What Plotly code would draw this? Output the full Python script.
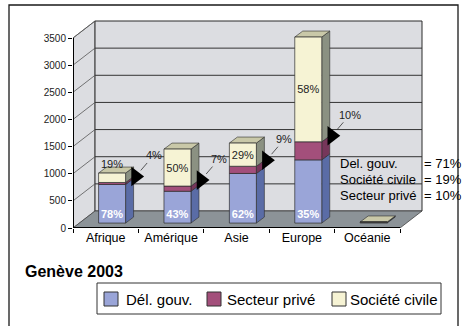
import plotly.graph_objects as go

# ---- data -------------------------------------------------------------
regions = ["Afrique", "Amérique", "Asie", "Europe", "Océanie"]
participants = [912, 1363, 1474, 3327, 20]      # delegates per region
pct_gov = [78, 43, 62, 35, 71]                  # Dél. gouv. share (%)
pct_priv = [4, 7, 9, 10, 10]                    # Secteur privé share (%)
pct_civil = [19, 50, 29, 58, 19]                # Société civile share (%)
series_names = ["Dél. gouv.", "Secteur privé", "Société civile"]
detail_region = "Océanie"                       # shares written out as text
detail_names = ["Del. gouv.", "Société civile", "Secteur privé"]
y_ticks = [0, 500, 1000, 1500, 2000, 2500, 3000, 3500]
title_text = "Genève 2003"

# ---- geometry / style -------------------------------------------------
FIG_W, FIG_H = 463, 326
PLOT_L, PLOT_R, PLOT_T, PLOT_B = 73, 424, 19, 228
PX_CAT = 65.4                 # px per category slot
PX_VAL = 190 / 3500           # px per participant
WALL_DX, WALL_DY = 22, 17     # depth of the chart box (px)
BAR_FRONT = 0.29              # bars stand this far into the box
BAR_W_PX = 27
BAR_DX, BAR_DY = 8, 6         # depth of each column (px)
FONT = "Liberation Sans, Arial, sans-serif"

WALL_FILL = "#dcdde1"
FLOOR_FILL = "#8c9398"
EDGE = "#2b2b2b"
FRONT = ["#9aa5d8", "#a34f7b", "#f6f3d4"]
SIDE = ["#5a6ca6", "#76365a", "#8b9182"]
TOP_FILL = "#c9c8a8"


def ux(px):
    return px / PX_CAT


def uy(px):
    return px / PX_VAL


def paper_x(px):
    return (px - PLOT_L) / (PLOT_R - PLOT_L)


def paper_y(py):
    return (PLOT_B - py) / (PLOT_B - PLOT_T)


def poly(pts):
    return "M" + "L".join(f"{x},{y}" for x, y in pts) + "Z"


n = len(regions)
WX, WY = ux(WALL_DX), uy(WALL_DY)
FX, FY = BAR_FRONT * WX, BAR_FRONT * WY
BW = ux(BAR_W_PX)
BX, BY = ux(BAR_DX), uy(BAR_DY)
y_top = max(y_ticks)

centers = [i + 0.5 for i in range(n)]
bar_x = [c + FX for c in centers]

gov = [t * p / 100 for t, p in zip(participants, pct_gov)]
priv = [t * p / 100 for t, p in zip(participants, pct_priv)]
civil = [t * p / 100 for t, p in zip(participants, pct_civil)]
segments = [gov, priv, civil]

bases = []
run = [FY] * n
for seg in segments:
    bases.append(list(run))
    run = [a + b for a, b in zip(run, seg)]
tops = run

shapes = []

# box: left wall, back wall, floor
shapes.append(dict(type="path", layer="below",
                   path=poly([(0, 0), (0, y_top), (WX, y_top + WY), (WX, WY)]),
                   fillcolor=WALL_FILL, line=dict(color="#555", width=0.8)))
shapes.append(dict(type="path", layer="below",
                   path=poly([(WX, WY), (WX, y_top + WY), (n + WX, y_top + WY), (n + WX, WY)]),
                   fillcolor=WALL_FILL, line=dict(color=EDGE, width=1)))
for v in y_ticks[1:-1]:
    shapes.append(dict(type="line", layer="below", x0=WX, x1=n + WX, y0=v + WY, y1=v + WY,
                       line=dict(color="#333", width=1)))
for v in y_ticks[1:]:
    shapes.append(dict(type="line", layer="below", x0=0, x1=WX, y0=v, y1=v + WY,
                       line=dict(color="#555", width=0.8)))
shapes.append(dict(type="path", layer="below",
                   path=poly([(0, 0), (n, 0), (n + WX, WY), (WX, WY)]),
                   fillcolor=FLOOR_FILL, line=dict(color="#444", width=0.8)))

# axis lines
shapes.append(dict(type="line", layer="below", x0=0, x1=n, y0=0, y1=0,
                   line=dict(color="black", width=2)))
shapes.append(dict(type="line", layer="below", x0=0, x1=0, y0=0, y1=y_top,
                   line=dict(color="black", width=2)))

# column side and top faces
for i in range(n):
    x1 = bar_x[i] + BW / 2
    x0 = bar_x[i] - BW / 2
    for s, seg in enumerate(segments):
        b = bases[s][i]
        t = b + seg[i]
        shapes.append(dict(type="path", layer="below",
                           path=poly([(x1, b), (x1 + BX, b + BY), (x1 + BX, t + BY), (x1, t)]),
                           fillcolor=SIDE[s], line=dict(color=EDGE, width=0.6)))
    t = tops[i]
    shapes.append(dict(type="path", layer="below",
                       path=poly([(x0, t), (x0 + BX, t + BY), (x1 + BX, t + BY), (x1, t)]),
                       fillcolor=TOP_FILL, line=dict(color=EDGE, width=0.6)))

fig = go.Figure()

labelled = [r != detail_region for r in regions]

fig.add_trace(go.Bar(
    x=bar_x, y=gov, base=bases[0], width=BW, name=series_names[0],
    marker=dict(color=FRONT[0], line=dict(color=EDGE, width=0.7)),
    text=[f"{p}%" if ok else "" for p, ok in zip(pct_gov, labelled)],
    textposition="inside", insidetextanchor="start", constraintext="none", textangle=0,
    textfont=dict(color="white", size=11, family=FONT, weight="bold"),
    hoverinfo="skip"))
fig.add_trace(go.Bar(
    x=bar_x, y=priv, base=bases[1], width=BW, name=series_names[1],
    marker=dict(color=FRONT[1], line=dict(color=EDGE, width=0.7)),
    hoverinfo="skip"))
fig.add_trace(go.Bar(
    x=bar_x, y=civil, base=bases[2], width=BW, name=series_names[2],
    marker=dict(color=FRONT[2], line=dict(color=EDGE, width=0.7)),
    text=[f"{p}%" if ok else "" for p, ok in zip(pct_civil, labelled)],
    textposition="auto", insidetextanchor="middle", constraintext="none", textangle=0,
    textfont=dict(color="#222", size=11, family=FONT),
    hoverinfo="skip"))

# callouts for the private-sector share
tri_x = [bar_x[i] + BW / 2 + BX + ux(2) for i in range(n) if labelled[i]]
tri_y = [bases[1][i] + priv[i] + BY for i in range(n) if labelled[i]]
tri_txt = [f"{pct_priv[i]}%" for i in range(n) if labelled[i]]
fig.add_trace(go.Scatter(
    x=tri_x, y=tri_y, mode="markers",
    marker=dict(symbol="triangle-right", size=17, color="black"),
    hoverinfo="skip"))

annotations = []
for x, y, t in zip(tri_x, tri_y, tri_txt):
    annotations.append(dict(x=x, y=y, xref="x", yref="y", text=t, showarrow=True,
                            ax=18, ay=-21, arrowhead=0, arrowwidth=0.8,
                            arrowcolor="#333", standoff=8,
                            font=dict(size=11, color="#222", family=FONT)))

# detail shares written beside the chart
d = regions.index(detail_region)
detail_vals = [pct_gov[d], pct_civil[d], pct_priv[d]]
for k, (name, v) in enumerate(zip(detail_names, detail_vals)):
    py = 163 + 16.3 * k
    annotations.append(dict(x=paper_x(338), y=paper_y(py), xref="paper", yref="paper",
                            text=name, showarrow=False, xanchor="left", yanchor="middle",
                            font=dict(size=13, color="black", family=FONT)))
    annotations.append(dict(x=paper_x(422), y=paper_y(py), xref="paper", yref="paper",
                            text=f"= {v}%", showarrow=False, xanchor="left", yanchor="middle",
                            font=dict(size=13, color="black", family=FONT)))

# title
annotations.append(dict(x=paper_x(23), y=paper_y(271), xref="paper", yref="paper",
                        text=title_text, showarrow=False, xanchor="left", yanchor="middle",
                        font=dict(size=16, color="black", family=FONT, weight="bold")))

# legend box
shapes.append(dict(type="rect", xref="paper", yref="paper",
                   x0=paper_x(97), x1=paper_x(441), y0=paper_y(314), y1=paper_y(283),
                   line=dict(color="#333", width=1), fillcolor="white"))
sq_left = [104, 207, 332]
txt_left = [124, 225, 348]
for s in range(3):
    shapes.append(dict(type="rect", xref="paper", yref="paper",
                       x0=paper_x(sq_left[s]), x1=paper_x(sq_left[s] + 14),
                       y0=paper_y(306), y1=paper_y(292),
                       line=dict(color="#333", width=1), fillcolor=FRONT[s]))
    annotations.append(dict(x=paper_x(txt_left[s]), y=paper_y(299), xref="paper", yref="paper",
                            text=series_names[s], showarrow=False, xanchor="left",
                            yanchor="middle",
                            font=dict(size=15, color="black", family=FONT)))

# outer frame
shapes.append(dict(type="rect", xref="paper", yref="paper",
                   x0=paper_x(9), x1=paper_x(458), y0=paper_y(340), y1=paper_y(5),
                   line=dict(color="#1a1a1a", width=1.3)))

fig.update_layout(
    width=FIG_W, height=FIG_H,
    margin=dict(l=PLOT_L, r=FIG_W - PLOT_R, t=PLOT_T, b=FIG_H - PLOT_B, pad=0),
    paper_bgcolor="white", plot_bgcolor="white",
    barmode="overlay", showlegend=False,
    shapes=shapes, annotations=annotations,
    font=dict(family=FONT),
    xaxis=dict(range=[0, ux(PLOT_R - PLOT_L)], tickmode="array", tickvals=centers,
               ticktext=regions, ticks="", showgrid=False, zeroline=False, showline=False,
               tickfont=dict(size=12.5, color="black", family=FONT),
               minor=dict(tickmode="array", tickvals=list(range(n + 1)), ticks="outside",
                          ticklen=4, tickcolor="black", tickwidth=1, showgrid=False)),
    yaxis=dict(range=[0, uy(PLOT_B - PLOT_T)], tickmode="array", tickvals=y_ticks,
               ticks="outside", ticklen=4, tickcolor="black", showgrid=False,
               zeroline=False, showline=False,
               tickfont=dict(size=10, color="#222", family=FONT)),
)

fig.write_html("out.html")
